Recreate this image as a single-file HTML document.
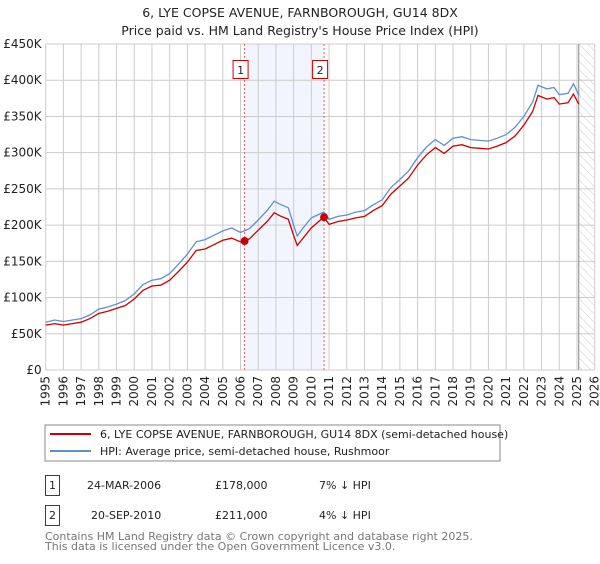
<!DOCTYPE html>
<html><head><meta charset="utf-8"><style>
body{margin:0;background:#fff;font-family:"DejaVu Sans","Liberation Sans",sans-serif;}
svg text{font-family:"DejaVu Sans","Liberation Sans",sans-serif;}
</style></head><body>
<svg id="chart" width="600" height="560" xmlns="http://www.w3.org/2000/svg">
<defs><pattern id="hatch" width="6" height="6" patternUnits="userSpaceOnUse" patternTransform="rotate(-45)"><line x1="0" y1="0" x2="0" y2="6" stroke="#ccc" stroke-width="1"/></pattern></defs>
<text x="300" y="17" text-anchor="middle" font-size="12.5" fill="#222">6, LYE COPSE AVENUE, FARNBOROUGH, GU14 8DX</text>
<text x="300" y="35" text-anchor="middle" font-size="12.5" fill="#222">Price paid vs. HM Land Registry's House Price Index (HPI)</text>
<g id="grid"></g><g id="axes"></g><g id="series"></g>
<rect x="45" y="425" width="455" height="36" fill="#fff" stroke="#888"/>
<line x1="50" y1="434" x2="91" y2="434" stroke="#cc0000" stroke-width="2"/>
<text x="100" y="438" font-size="11" fill="#222">6, LYE COPSE AVENUE, FARNBOROUGH, GU14 8DX (semi-detached house)</text>
<line x1="50" y1="451" x2="91" y2="451" stroke="#6090d0" stroke-width="2"/>
<text x="100" y="455" font-size="11" fill="#222">HPI: Average price, semi-detached house, Rushmoor</text>
<g font-size="11" fill="#222">
<rect x="45.5" y="475.5" width="14" height="20" fill="#fff" stroke="#cc0000"/>
<text x="52.5" y="489" text-anchor="middle">1</text>
<text x="87" y="489">24-MAR-2006</text>
<text x="215" y="489">£178,000</text>
<text x="319" y="489">7% ↓ HPI</text>
<rect x="45.5" y="505.5" width="14" height="20" fill="#fff" stroke="#cc0000"/>
<text x="52.5" y="519" text-anchor="middle">2</text>
<text x="91" y="519">20-SEP-2010</text>
<text x="215" y="519">£211,000</text>
<text x="319" y="519">4% ↓ HPI</text>
</g>
<text x="45" y="540" font-size="11" fill="#777">Contains HM Land Registry data © Crown copyright and database right 2025.</text>
<text x="45" y="550" font-size="11" fill="#777">This data is licensed under the Open Government Licence v3.0.</text>
</svg>
<script>
const years=[1995,1995.5,1996,1996.5,1997,1997.5,1998,1998.5,1999,1999.5,2000,2000.5,2001,2001.5,2002,2002.5,2003,2003.5,2004,2004.5,2005,2005.5,2006,2006.5,2007,2007.5,2007.9,2008.3,2008.7,2009,2009.2,2009.5,2010,2010.7,2011,2011.5,2012,2012.5,2013,2013.5,2014,2014.5,2015,2015.5,2016,2016.5,2017,2017.5,2018,2018.5,2019,2019.5,2020,2020.5,2021,2021.5,2022,2022.5,2022.8,2023.3,2023.7,2024,2024.5,2024.8,2025.1];
const hpiValues=[66,69,67,69,71,76,84,87,91,96,105,118,124,126,133,146,160,177,180,186,192,196,190,195,207,220,233,228,224,200,185,195,210,218,208,212,214,218,220,228,235,252,263,275,293,308,318,310,320,322,318,317,316,320,325,335,350,370,393,388,390,380,382,395,380];
const priceValues=[62,64,62,64,66,71,78,81,85,89,98,110,116,117,124,136,149,165,167,173,179,182,177,181,193,205,217,212,208,186,172,181,196,211,201,205,207,210,212,220,227,243,254,265,283,297,307,299,309,311,307,306,305,309,314,323,338,357,379,374,376,367,369,381,367];
const saleYears=[2006.23,2010.72];
const saleValues=[178,211];
const saleLabels=["1","2"];
const yTicks=[0,50,100,150,200,250,300,350,400,450];
const yTickLabels=["£0","£50K","£100K","£150K","£200K","£250K","£300K","£350K","£400K","£450K"];
const xTicks=[1995,1996,1997,1998,1999,2000,2001,2002,2003,2004,2005,2006,2007,2008,2009,2010,2011,2012,2013,2014,2015,2016,2017,2018,2019,2020,2021,2022,2023,2024,2025,2026];
const NS="http://www.w3.org/2000/svg";
const L=45.7,R=594.7,T=44,B=370;
const x=v=>L+(v-1995)/(2026-1995)*(R-L);
const y=v=>B-v/450*(B-T);
function mk(tag,attrs,parent){const e=document.createElementNS(NS,tag);for(const k in attrs)e.setAttribute(k,attrs[k]);parent.appendChild(e);return e;}
const grid=document.getElementById('grid'),axes=document.getElementById('axes'),ser=document.getElementById('series');
let shade=mk('rect',{x:x(saleYears[0]),y:T,width:x(saleYears[1])-x(saleYears[0]),height:B-T,fill:'#f2f5fd'},grid);


let hat=mk('rect',{x:x(2025.1),y:T,width:R-x(2025.1),height:B-T,fill:'url(#hatch)'},grid);


yTicks.forEach((v,i)=>{
 let g=mk('line',{x1:L,x2:R,y1:y(v),y2:y(v),stroke:'#ccc','stroke-width':1},grid);
 
 
 let t=mk('text',{x:L-4,y:y(v)+4,'text-anchor':'end','font-size':12,fill:'#222'},axes);t.textContent=yTickLabels[i];
 
 
});
xTicks.forEach(v=>{
 let g=mk('line',{x1:x(v),x2:x(v),y1:T,y2:B,stroke:'#ccc','stroke-width':1},grid);
 
 
 let t=mk('text',{x:x(v)+4,y:B+6,'text-anchor':'end','font-size':12,fill:'#222',transform:`rotate(-90 ${x(v)+4} ${B+6})`},axes);t.textContent=v;
 
 
});
let vl=mk('line',{x1:x(2025.1),x2:x(2025.1),y1:T,y2:B,stroke:'#888','stroke-width':1},grid);


saleYears.forEach((s,i)=>{
 let d=mk('line',{x1:x(s),x2:x(s),y1:T,y2:B,stroke:'#e06060','stroke-width':1,'stroke-dasharray':'2,2'},grid);
 
 
 let bx=mk('rect',{x:x(s)-11.5,y:60.5,width:15,height:18,fill:'#fff',stroke:'#cc0000'},axes);
 
 
 let t=mk('text',{x:x(s)-4,y:74,'text-anchor':'middle','font-size':11,fill:'#222'},axes);t.textContent=saleLabels[i];
 
 
});
const path=vals=>vals.map((v,i)=>(i?'L':'M')+x(years[i]).toFixed(1)+','+y(v).toFixed(1)).join('');
let hp=mk('path',{d:path(hpiValues),fill:'none',stroke:'#6090d0','stroke-width':1.3},ser);


let pp=mk('path',{d:path(priceValues),fill:'none',stroke:'#cc0000','stroke-width':1.3},ser);


saleYears.forEach((s,i)=>{
 let c=mk('circle',{cx:x(s),cy:y(saleValues[i]),r:4,fill:'#cc0000'},ser);
 
 
});
</script>
</body></html>
